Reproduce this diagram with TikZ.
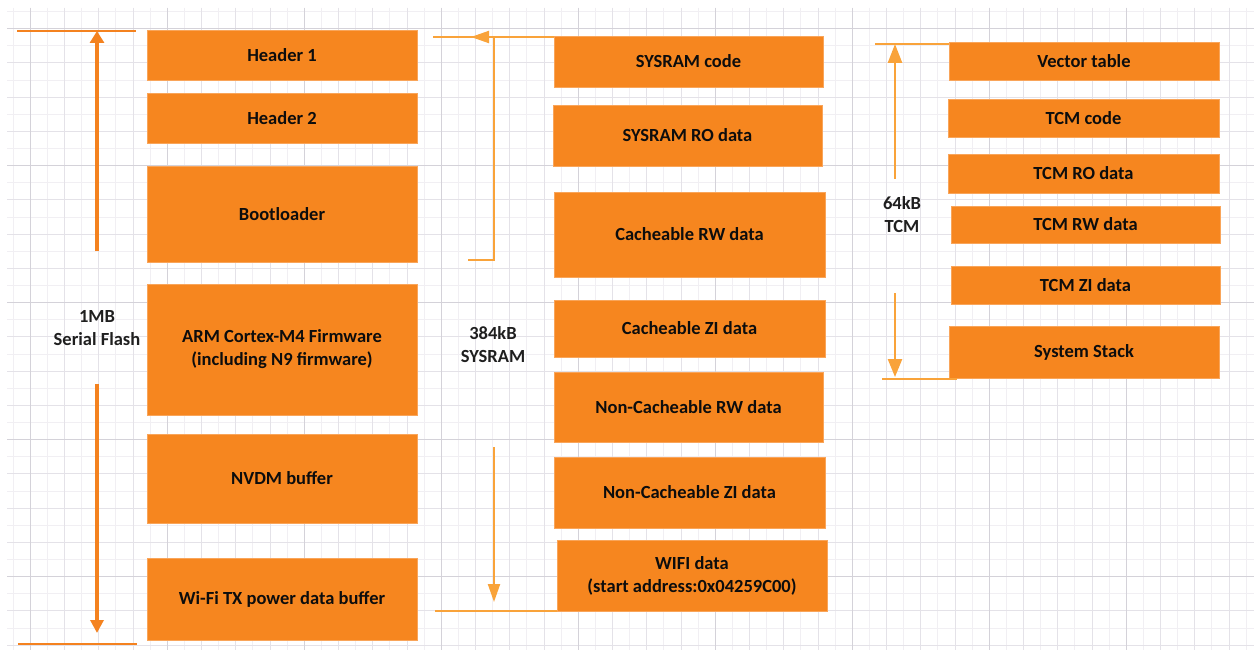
\documentclass[tikz,border=0pt]{standalone}
\usepackage{fontspec}
\setmainfont{Carlito}
\usepackage{xcolor}
\usetikzlibrary{arrows.meta}
\definecolor{boxor}{HTML}{F6861F}
\definecolor{boxedge}{HTML}{F9A55A}
\definecolor{darkor}{HTML}{F4821F}
\definecolor{lightor}{HTML}{F9A33A}
\definecolor{gridlt}{HTML}{F1EFF3}
\definecolor{gridmd}{HTML}{E4E2E8}
\definecolor{griddk}{HTML}{D4D2D9}

\begin{document}
\begin{tikzpicture}[
  x=1pt, y=-1pt,
  every node/.style={font=\fontsize{18.5}{23}\selectfont\bfseries},
  blk/.style={draw=boxedge, fill=boxor, line width=0.8pt, inner sep=0pt, align=center, text=black!95},
  lbl/.style={align=center, text=black!88},
  limline/.style={line width=1.6pt},
  sizearrow/.style={line width=2.4pt}
]
% Background and grid
\useasboundingbox (0,0) rectangle (1254,650);
\fill[white] (0,0) rectangle (1254,650);
\foreach \k in {-1,...,71} \draw[gridlt, line width=1pt] ({30.3+17.125*\k},8) -- ({30.3+17.125*\k},650);
\foreach \k in {-1,...,36} \draw[gridlt, line width=1pt] (7,{28.7+17.125*\k}) -- (1254,{28.7+17.125*\k});
\foreach \k in {0,2,...,70} \draw[gridmd, line width=1pt] ({30.3+17.125*\k},8) -- ({30.3+17.125*\k},650);
\foreach \k in {0,2,...,36} \draw[gridmd, line width=1pt] (7,{28.7+17.125*\k}) -- (1254,{28.7+17.125*\k});
\foreach \k in {0,8,...,64} \draw[griddk, line width=1pt] ({30.3+17.125*\k},8) -- ({30.3+17.125*\k},650);
\foreach \k in {0,8,...,32} \draw[griddk, line width=1pt] (7,{28.7+17.125*\k}) -- (1254,{28.7+17.125*\k});

% Left column: serial flash
\node[blk, minimum width=270pt, minimum height=50pt] (hdr1) at (282,55) {Header 1};
\node[blk, minimum width=270pt, minimum height=50pt] (hdr2) at (282,118) {Header 2};
\node[blk, minimum width=270pt, minimum height=96pt] (boot) at (282,214) {Bootloader};
\node[blk, minimum width=270pt, minimum height=131pt] (fw) at (282,349.5) {ARM Cortex-M4 Firmware\\(including N9 firmware)};
\node[blk, minimum width=270pt, minimum height=89pt] (nvdm) at (282,478.5) {NVDM buffer};
\node[blk, minimum width=270pt, minimum height=82pt] (txpwr) at (282,599) {Wi-Fi TX power data buffer};

% Middle column: SYSRAM
\node[blk, minimum width=269pt, minimum height=51pt] (scode) at (688.5,61.5) {SYSRAM code};
\node[blk, minimum width=269pt, minimum height=61pt] (sro) at (687.5,135.5) {SYSRAM RO data};
\node[blk, minimum width=271pt, minimum height=85pt] (crw) at (689.5,234.5) {Cacheable RW data};
\node[blk, minimum width=271pt, minimum height=57pt] (czi) at (689.5,328.5) {Cacheable ZI data};
\node[blk, minimum width=269pt, minimum height=70pt] (ncrw) at (688.5,407) {Non-Cacheable RW data};
\node[blk, minimum width=271pt, minimum height=71pt] (nczi) at (689.5,492.5) {Non-Cacheable ZI data};
\node[blk, minimum width=270pt, minimum height=71pt] (wifi) at (692,575.5) {WIFI data\\(start address:0x04259C00)};

% Right column: TCM
\node[blk, minimum width=270pt, minimum height=38pt] (vec) at (1084,61) {Vector table};
\node[blk, minimum width=271pt, minimum height=38pt] (tcode) at (1083.5,118) {TCM code};
\node[blk, minimum width=271pt, minimum height=39pt] (tro) at (1083.5,173.5) {TCM RO data};
\node[blk, minimum width=269pt, minimum height=37pt] (trw) at (1085.5,224.5) {TCM RW data};
\node[blk, minimum width=269pt, minimum height=38pt] (tzi) at (1085.5,285) {TCM ZI data};
\node[blk, minimum width=270pt, minimum height=52pt] (stack) at (1084,352) {System Stack};

% Size labels
\node[lbl] (flash) at (97,328) {1MB\\Serial Flash};
\node[lbl] (sysram) at (493,345) {384kB\\SYSRAM};
\node[lbl] (tcm) at (902,215) {64kB\\TCM};

% Flash extent
\coordinate (fa) at (17,31);   \coordinate (fb) at (136,31);
\coordinate (fc) at (18,644);  \coordinate (fd) at (137,644);
\coordinate (fup) at (97,251); \coordinate (fdn) at (97,384);
\draw[darkor, limline] (fa) -- (fb);
\draw[darkor, limline] (fc) -- (fd);
\draw[darkor, line width=3.2pt, -{Triangle[length=12pt,width=14pt]}] (fup) -- (97,31);
\draw[darkor, line width=3.2pt, -{Triangle[length=13pt,width=13pt]}] (fdn) -- (97,633);

% SYSRAM extent
\coordinate (sa) at (433,37);  \coordinate (sb) at (468,260);
\coordinate (sc) at (494,37);  \coordinate (sd) at (471,37);
\coordinate (se) at (435,611); \coordinate (sf) at (494,447);
\draw[lightor, limline] (sa) -- (scode.north west |- sa);
\draw[lightor, sizearrow, line width=2pt, -{Triangle[length=18pt,width=12pt]}] (sb) -| (sc) -- (sd);
\draw[lightor, limline] (se) -- (wifi.south west |- se);
\draw[lightor, sizearrow, line width=2pt, -{Triangle[length=18pt,width=12pt]}] (sf) -- (494,602);

% TCM extent
\coordinate (ta) at (875,44);  \coordinate (tb) at (882,379);
\coordinate (tup) at (895,179); \coordinate (tdn) at (895,293);
\draw[lightor, limline] (ta) -- (vec.west |- ta);
\draw[lightor, limline] (tb) -- (957,379);
\draw[lightor, sizearrow, -{Triangle[length=19pt,width=14pt]}] (tup) -- (895,44);
\draw[lightor, sizearrow, -{Triangle[length=18pt,width=14pt]}] (tdn) -- (895,377);

\end{tikzpicture}
\end{document}
